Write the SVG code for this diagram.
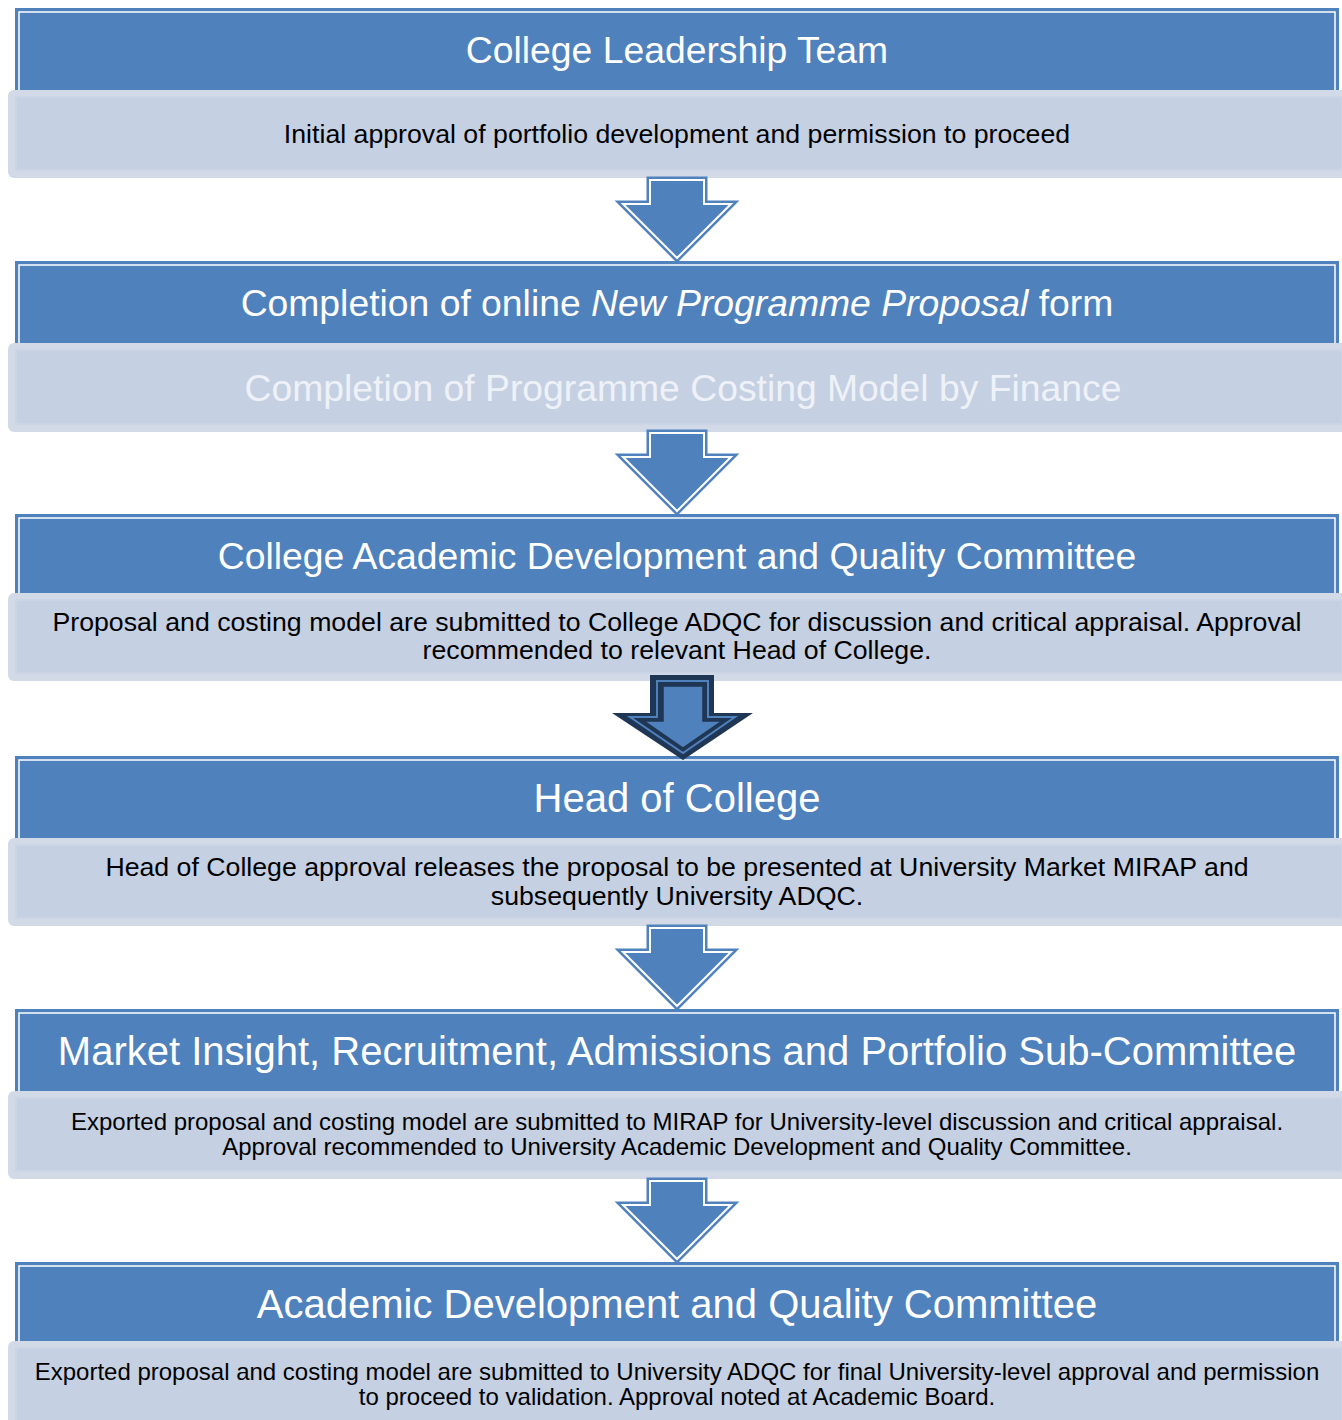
<svg xmlns="http://www.w3.org/2000/svg" width="1342" height="1420" viewBox="0 0 1342 1420">
<style>
.hdr{fill:#4F81BD;stroke:#4F81BD;stroke-width:2}
.hin{fill:none;stroke:#FFFFFF;stroke-width:1.5}
.subo{fill:#D2DAE8}
.subi{fill:#C5D0E3;stroke:#CCD5E6;stroke-width:2}
.ht{font-family:"Liberation Sans",Arial,sans-serif;fill:#FFFFFF;text-anchor:middle}
.st{font-family:"Liberation Sans",Arial,sans-serif;fill:#000000;text-anchor:middle;font-size:26.7px}
.arr{fill:#4F81BD;stroke:#4F81BD;stroke-width:7;stroke-linejoin:miter}
.arw{fill:none;stroke:#FFFFFF;stroke-width:2}
</style>
<defs>
<path id="la" d="M650,-81 L704,-81 L704,-57 L731,-57 L677,-3 L623,-57 L650,-57 Z"/>
</defs>
<g id="node1">
<rect class="hdr" x="16" y="9" width="1322" height="84"/>
<rect class="hin" x="19" y="12" width="1316" height="80"/>
<rect class="subo" x="8" y="90" width="1340" height="88" rx="6"/>
<rect class="subi" x="16" y="97" width="1326" height="73"/>
<text class="ht" x="677" y="63" font-size="37.3">College Leadership Team</text>
<text class="st" x="677" y="143">Initial approval of portfolio development and permission to proceed</text>
</g>
<g id="node2">
<rect class="hdr" x="16" y="262" width="1322" height="84"/>
<rect class="hin" x="19" y="265" width="1316" height="80"/>
<rect class="subo" x="8" y="343" width="1340" height="89" rx="6"/>
<rect class="subi" x="16" y="350" width="1326" height="74"/>
<text class="ht" x="677" y="316" font-size="37.3">Completion of online <tspan font-style="italic">New Programme Proposal</tspan> form</text>
<text class="ht" x="683" y="401" font-size="37.3" style="fill:#EEF2F8">Completion of Programme Costing Model by Finance</text>
</g>
<g id="node3">
<rect class="hdr" x="16" y="515" width="1322" height="82"/>
<rect class="hin" x="19" y="518" width="1316" height="78"/>
<rect class="subo" x="8" y="593" width="1340" height="88" rx="6"/>
<rect class="subi" x="16" y="600" width="1326" height="73"/>
<text class="ht" x="677" y="569" font-size="37.3">College Academic Development and Quality Committee</text>
<text class="st" x="677" y="631">Proposal and costing model are submitted to College ADQC for discussion and critical appraisal. Approval</text>
<text class="st" x="677" y="659">recommended to relevant Head of College.</text>
</g>
<g id="node4">
<rect class="hdr" x="16" y="757" width="1322" height="84"/>
<rect class="hin" x="19" y="760" width="1316" height="80"/>
<rect class="subo" x="8" y="838" width="1340" height="88" rx="6"/>
<rect class="subi" x="16" y="845" width="1326" height="73"/>
<text class="ht" x="677" y="812" font-size="40">Head of College</text>
<text class="st" x="677" y="876">Head of College approval releases the proposal to be presented at University Market MIRAP and</text>
<text class="st" x="677" y="905">subsequently University ADQC.</text>
</g>
<g id="node5">
<rect class="hdr" x="16" y="1010" width="1322" height="84"/>
<rect class="hin" x="19" y="1013" width="1316" height="80"/>
<rect class="subo" x="8" y="1091" width="1340" height="88" rx="6"/>
<rect class="subi" x="16" y="1098" width="1326" height="73"/>
<text class="ht" x="677" y="1065" font-size="40">Market Insight, Recruitment, Admissions and Portfolio Sub-Committee</text>
<text class="st" x="677" y="1130" style="font-size:24px">Exported proposal and costing model are submitted to MIRAP for University-level discussion and critical appraisal.</text>
<text class="st" x="677" y="1155" style="font-size:24px">Approval recommended to University Academic Development and Quality Committee.</text>
</g>
<g id="node6">
<rect class="hdr" x="16" y="1263" width="1322" height="82"/>
<rect class="hin" x="19" y="1266" width="1316" height="78"/>
<rect class="subo" x="8" y="1341" width="1340" height="90" rx="6"/>
<rect class="subi" x="16" y="1348" width="1326" height="80"/>
<text class="ht" x="677" y="1318" font-size="40">Academic Development and Quality Committee</text>
<text class="st" x="677" y="1380" style="font-size:24px">Exported proposal and costing model are submitted to University ADQC for final University-level approval and permission</text>
<text class="st" x="677" y="1405" style="font-size:24px">to proceed to validation. Approval noted at Academic Board.</text>
</g>
<g id="connectors">
<g transform="translate(0,261)"><use href="#la" class="arr"/><use href="#la" class="arw"/></g>
<g transform="translate(0,514)"><use href="#la" class="arr"/><use href="#la" class="arw"/></g>
<g id="dark-arrow">
<path d="M650,675 L714,675 L714,713 L753,713 L683,760 L612,713 L650,713 Z" fill="#1F3654"/>
<path d="M657,681 L708,681 L708,717 L735,717 L683,753 L630,717 L657,717 Z" fill="none" stroke="#4F81BD" stroke-width="2"/>
<path d="M663,686 L703,686 L703,721 L722,721 L683,748 L644,721 L663,721 Z" fill="#4F81BD" stroke="#1F3654" stroke-width="1.5"/>
</g>
<g transform="translate(0,1009)"><use href="#la" class="arr"/><use href="#la" class="arw"/></g>
<g transform="translate(0,1262)"><use href="#la" class="arr"/><use href="#la" class="arw"/></g>
</g>
</svg>
